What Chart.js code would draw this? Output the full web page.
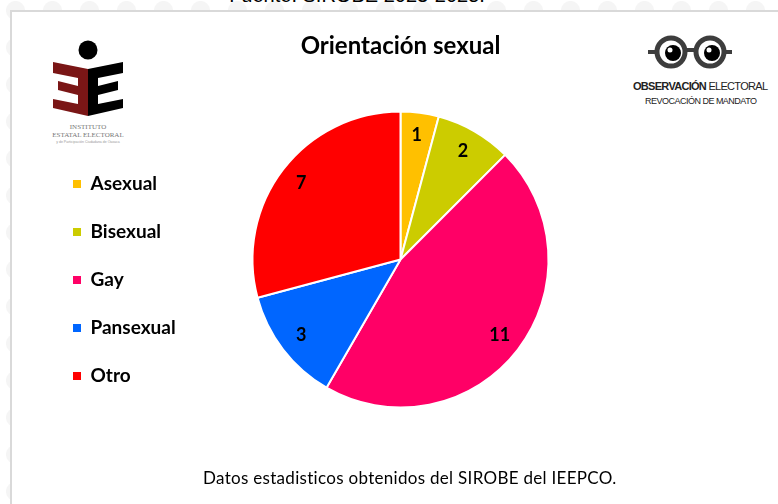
<!DOCTYPE html>
<html lang="es">
<head>
<meta charset="utf-8">
<title>Orientación sexual</title>
<script src="https://cdn.jsdelivr.net/npm/chart.js@4.4.1/dist/chart.umd.min.js"></script>
<style>
  html, body { margin: 0; padding: 0; }
  body {
    width: 778px; height: 504px; overflow: hidden; position: relative;
    background: #fff radial-gradient(circle, #f5f5f5 0 9px, transparent 10px) -3px -8px / 37px 37px;
    font-family: Lato, sans-serif;
  }
  #fuente {
    position: absolute; left: 0; width: 714px; top: -17px; text-align: center;
    font: 20px "Liberation Sans", Arial, sans-serif; color: #000; line-height: 24px;
  }
  #panel {
    position: absolute; left: 10px; top: 10px; width: 800px; height: 520px;
    background: #fff; border: 2px solid #d9d9d9; box-sizing: border-box;
  }
  #chart { position: absolute; left: 0; top: 0; }
  #nota {
    position: absolute; left: 203px; top: 467px; font: 17px Lato, sans-serif; color: #000;
    letter-spacing: 0.3px; white-space: nowrap;
  }
  svg { position: absolute; }
</style>
</head>
<body>
<div id="fuente">Fuente: SIROBE 2023-2025.</div>
<div id="panel"></div>

<!-- logo IEEPCO -->
<svg style="left:44px;top:38px" width="90" height="110" viewBox="0 0 90 110">
  <circle cx="44" cy="12" r="9.5" fill="#000"/>
  <polygon points="9,24 44,31 44,78 9,70 9,61 34,66 34,57 14,52 14,43 34,48 34,40 9,35" fill="#7a1616"/>
  <polygon points="44,31 79,24 79,35 54,40 54,48 74,43 74,52 54,57 54,66 79,61 79,70 44,78" fill="#000"/>
  <text x="44" y="91" text-anchor="middle" font-family="Liberation Serif" font-size="7" fill="#777">INSTITUTO</text>
  <text x="44" y="99" text-anchor="middle" font-family="Liberation Serif" font-size="7" fill="#777">ESTATAL ELECTORAL</text>
  <text x="44" y="105" text-anchor="middle" font-family="Liberation Sans" font-size="3.5" fill="#999">y de Participación Ciudadana de Oaxaca</text>
</svg>

<!-- logo Observación Electoral -->
<svg style="left:628px;top:30px" width="145" height="80" viewBox="0 0 145 80">
  <line x1="20" y1="22" x2="28" y2="22" stroke="#3d3d3d" stroke-width="4"/>
  <line x1="57" y1="20" x2="67" y2="20" stroke="#3d3d3d" stroke-width="4"/>
  <line x1="96" y1="22" x2="104" y2="22" stroke="#3d3d3d" stroke-width="4"/>
  <circle cx="43" cy="22" r="14" fill="#fff" stroke="#3d3d3d" stroke-width="5"/>
  <circle cx="82" cy="22" r="14" fill="#fff" stroke="#3d3d3d" stroke-width="5"/>
  <circle cx="45" cy="23" r="8" fill="#000"/>
  <circle cx="84" cy="23" r="8" fill="#000"/>
  <circle cx="42" cy="20" r="2.5" fill="#fff"/>
  <circle cx="81" cy="20" r="2.5" fill="#fff"/>
  <text x="5" y="60" font-family="Liberation Sans Narrow, Liberation Sans" font-size="11" font-weight="bold" fill="#222" textLength="135">OBSERVACIÓN <tspan font-weight="normal">ELECTORAL</tspan></text>
  <text x="17" y="74" font-family="Liberation Sans Narrow, Liberation Sans" font-size="9" fill="#222" textLength="112">REVOCACIÓN DE MANDATO</text>
</svg>

<canvas id="chart" width="778" height="504"></canvas>
<div id="nota">Datos estadisticos obtenidos del SIROBE del IEEPCO.</div>

<script>
const categorias = ['Asexual', 'Bisexual', 'Gay', 'Pansexual', 'Otro']
const valores = [1, 2, 11, 3, 7]
const colores = ['#FFC000', '#CCCC00', '#FF0066', '#0066FF', '#FF0000']

// etiquetas de valor dentro de cada rebanada
const etiquetasPlugin = {
  id: 'etiquetas',
  afterDatasetsDraw(chart) {
    const { ctx } = chart
    const meta = chart.getDatasetMeta(0)
    ctx.save()
    ctx.font = 'bold 18px Lato'
    ctx.fillStyle = '#000'
    ctx.textAlign = 'center'
    ctx.textBaseline = 'middle'
    meta.data.forEach((arc, i) => {
      const { x, y, startAngle, endAngle, outerRadius } = arc.getProps(['x', 'y', 'startAngle', 'endAngle', 'outerRadius'], true)
      const mid = (startAngle + endAngle) / 2
      const r = outerRadius * 0.845
      ctx.fillText(valores[i], x + Math.cos(mid) * r, y + Math.sin(mid) * r)
    })
    ctx.restore()
  }
}

// ancho de la leyenda, para dejar el pastel centrado en x = 400
const medir = document.createElement('canvas').getContext('2d')
medir.font = 'bold 19px Lato'
const textoMax = Math.max(...categorias.map(c => medir.measureText(c).width))
const anchoLeyenda = 29 + 8 + 9.5 + textoMax + 10
const izq = 44
const der = 778 - (801 - izq - anchoLeyenda)

const baseLabels = Chart.overrides.pie.plugins.legend.labels.generateLabels

new Chart(document.getElementById('chart'), {
  type: 'pie',
  data: {
    labels: categorias,
    datasets: [{
      data: valores,
      backgroundColor: colores,
      borderColor: '#fff',
      borderWidth: 2
    }]
  },
  options: {
    responsive: false,
    animation: false,
    radius: 148,
    layout: { padding: { left: izq, right: der, top: 0, bottom: 44.6 } },
    plugins: {
      tooltip: { enabled: false },
      title: {
        display: true,
        fullSize: false,
        text: 'Orientación sexual',
        color: '#000',
        font: { family: 'Lato', size: 24, weight: 'bold', lineHeight: 1.15 },
        padding: { top: 32, bottom: 0 }
      },
      legend: {
        position: 'left',
        fullSize: false,
        title: { display: true, text: '', font: { size: 10, lineHeight: 1 }, padding: { top: 31, bottom: 0 } },
        labels: {
          boxWidth: 8,
          boxHeight: 8,
          padding: 29,
          color: '#000',
          font: { family: 'Lato', size: 19, weight: 'bold' },
          generateLabels: chart => baseLabels(chart).map(item => ({ ...item, lineWidth: 0 }))
        }
      }
    }
  },
  plugins: [etiquetasPlugin]
})
</script>
</body>
</html>
